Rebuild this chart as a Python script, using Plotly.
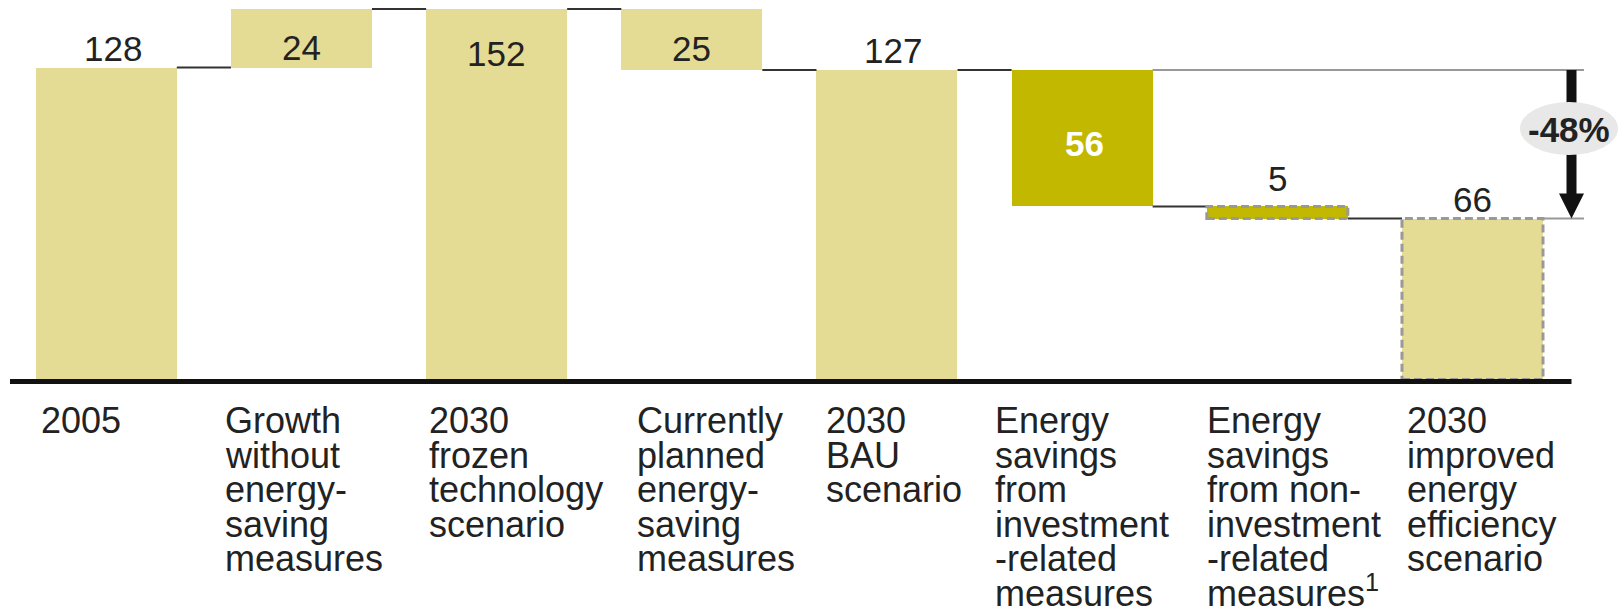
import plotly.graph_objects as go

# ---------------- data ----------------
categories = [
    "2005",
    "Growth\nwithout\nenergy-\nsaving\nmeasures",
    "2030\nfrozen\ntechnology\nscenario",
    "Currently\nplanned\nenergy-\nsaving\nmeasures",
    "2030\nBAU\nscenario",
    "Energy\nsavings\nfrom\ninvestment\n-related\nmeasures",
    "Energy\nsavings\nfrom non-\ninvestment\n-related\nmeasures<sup>1</sup>",
    "2030\nimproved\nenergy\nefficiency\nscenario",
]
values = [128, 24, 152, 25, 127, 56, 5, 66]
measures = ["total", "increase", "total", "decrease", "total", "decrease", "decrease", "total"]

# ---------------- styles ----------------
LIGHT = "#E4DC94"
DARK = "#C2B800"
bar_colors = [LIGHT, LIGHT, LIGHT, LIGHT, LIGHT, DARK, DARK, LIGHT]
dashed_outline = [False, False, False, False, False, False, True, True]
label_style = ["top", "top", "top", "top", "top", "center", "top", "top"]
label_baseline_dy = [6.5, -51, -57, -52, 7, -17, 16, 7]   # px (up positive) from bar top / middle
label_dx = [7, 0, -1, 0, 6, 2, 0, 0]
label_color = ["#222"] * 5 + ["white", "#222", "#222"]
label_bold = [False] * 5 + [True, False, False]
cat_dx = [5, -6, 3, 16, 9.5, -16.5, 0, 5]

FONT = "Liberation Sans, Arial, Helvetica, sans-serif"
VAL_FS = 35
CAT_FS = 36

W, H = 1624, 613
X0_PX = 106.3          # pixel of category 0 centre
PX_PER_CAT = 195.17
Y0_PX = 379.5          # pixel of value 0
PX_PER_UNIT = 2.4375
BAR_W = 0.7225

def px_x(p):
    return (p - X0_PX) / PX_PER_CAT

def px_y(p):
    return (Y0_PX - p) / PX_PER_UNIT

# ---------------- waterfall geometry from data ----------------
bases, levels = [], []
level = 0
for v, m in zip(values, measures):
    if m == "total":
        b = 0
        level = v
    elif m == "increase":
        b = level
        level += v
    else:
        level -= v
        b = level
    bases.append(b)
    levels.append(level)

xs = list(range(len(values)))

fig = go.Figure()
fig.add_trace(go.Bar(
    x=xs, y=values, base=bases, width=BAR_W,
    marker=dict(color=bar_colors, line=dict(width=0)),
    hoverinfo="skip",
))

shapes = []
# connectors
for i in range(len(values) - 1):
    shapes.append(dict(type="line", xref="x", yref="y",
                       x0=i + BAR_W / 2, x1=i + 1 - BAR_W / 2,
                       y0=levels[i], y1=levels[i],
                       line=dict(color="#333", width=2)))

# reference lines for the -48% arrow
start_val = values[4]
end_val = values[7]
x_ref_end = px_x(1584)
arrow_x = px_x(1571.5)
shapes.append(dict(type="line", xref="x", yref="y", x0=5 + BAR_W / 2, x1=x_ref_end,
                   y0=start_val, y1=start_val, line=dict(color="#999", width=2)))
shapes.append(dict(type="line", xref="x", yref="y", x0=7 + BAR_W / 2, x1=x_ref_end,
                   y0=end_val, y1=end_val, line=dict(color="#999", width=2)))

# dashed outlines
for i in xs:
    if dashed_outline[i]:
        shapes.append(dict(type="rect", xref="x", yref="y",
                           x0=i - BAR_W / 2, x1=i + BAR_W / 2,
                           y0=bases[i], y1=bases[i] + values[i],
                           line=dict(color="#999", width=3, dash="8px,4px"),
                           fillcolor="rgba(0,0,0,0)"))

# baseline
shapes.append(dict(type="line", xref="x", yref="y", x0=px_x(10), x1=arrow_x,
                   y0=px_y(381.5), y1=px_y(381.5), line=dict(color="#111", width=5)))

# arrow shaft + head
shapes.append(dict(type="line", xref="x", yref="y", x0=arrow_x, x1=arrow_x,
                   y0=end_val + 20 / PX_PER_UNIT, y1=start_val,
                   line=dict(color="#111", width=10)))
shapes.append(dict(type="path", xref="x", yref="y", xsizemode="pixel", ysizemode="pixel",
                   xanchor=arrow_x, yanchor=end_val,
                   path="M -12.5,25 L 12.5,25 L 0,0 Z",
                   fillcolor="#111", line=dict(width=0)))
# ellipse
ell_x, ell_y = px_x(1569), px_y(128.5)
shapes.append(dict(type="circle", xref="x", yref="y", xsizemode="pixel", ysizemode="pixel",
                   xanchor=ell_x, yanchor=ell_y, x0=-49, x1=49, y0=-26.5, y1=26.5,
                   fillcolor="#E8E8E8", line=dict(width=0)))

annotations = []
# value labels
for i in xs:
    txt = str(values[i])
    if label_bold[i]:
        txt = "<b>" + txt + "</b>"
    if label_style[i] == "center":
        ya = bases[i] + values[i] / 2
    else:
        ya = bases[i] + values[i]
    annotations.append(dict(
        x=i, y=ya, xref="x", yref="y", text=txt, showarrow=False,
        xanchor="center", yanchor="bottom",
        xshift=label_dx[i], yshift=label_baseline_dy[i] - 0.212 * VAL_FS,
        borderpad=0, borderwidth=0,
        font=dict(family=FONT, size=VAL_FS, color=label_color[i]),
    ))

# percentage label
pct = (end_val - start_val) / start_val * 100
annotations.append(dict(
    x=ell_x, y=px_y(142), xref="x", yref="y", text="<b>%d%%</b>" % round(pct),
    showarrow=False, xanchor="center", yanchor="bottom", yshift=-0.212 * VAL_FS,
    borderpad=0, borderwidth=0,
    font=dict(family=FONT, size=VAL_FS, color="#222"),
))

# category labels, one annotation per line (tight line spacing)
LINE0 = 433.3
PITCH = 34.6
for i, cat in enumerate(categories):
    for n, line in enumerate(cat.split("\n")):
        baseline_px = LINE0 + PITCH * n
        annotations.append(dict(
            x=i - BAR_W / 2, y=0, xref="x", yref="y", text=line, showarrow=False,
            xanchor="left", yanchor="bottom",
            xshift=cat_dx[i], yshift=-(baseline_px + 0.212 * CAT_FS - Y0_PX),
            borderpad=0, borderwidth=0,
            font=dict(family=FONT, size=CAT_FS, color="#222"),
        ))

fig.update_layout(
    width=W, height=H,
    margin=dict(l=0, r=0, t=0, b=0),
    paper_bgcolor="white", plot_bgcolor="white",
    showlegend=False,
    xaxis=dict(range=[px_x(0), px_x(W)], visible=False, fixedrange=True),
    yaxis=dict(range=[px_y(H), px_y(0)], visible=False, fixedrange=True),
    shapes=shapes,
    annotations=annotations,
    bargap=0,
)

fig.write_html("out.html")
